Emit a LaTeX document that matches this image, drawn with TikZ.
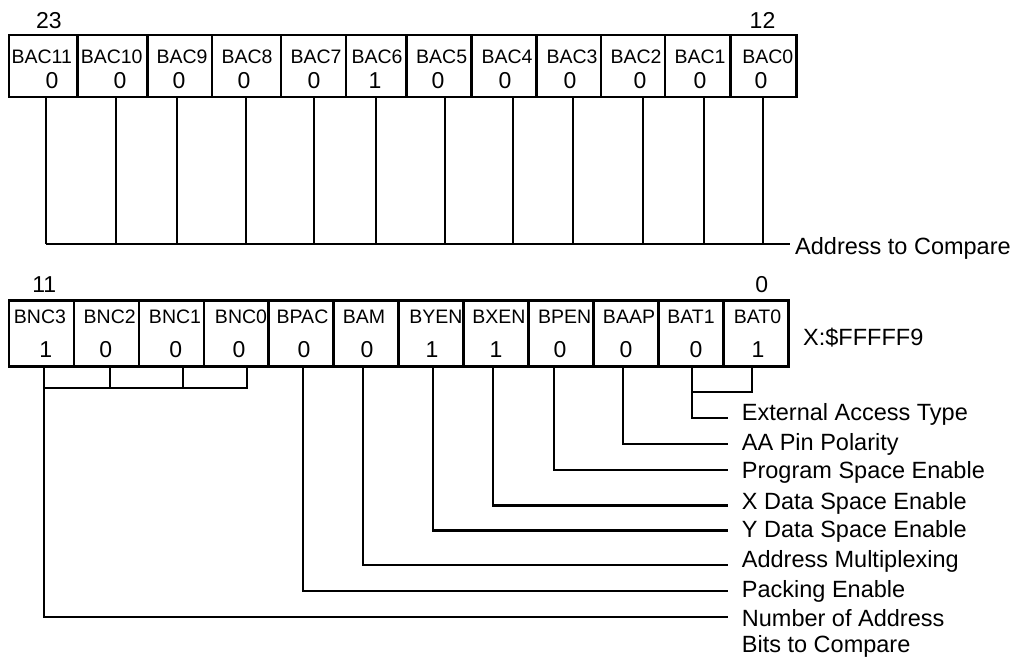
\documentclass[tikz,border=0pt]{standalone}
\usepackage{fontspec}
\setmainfont{Liberation Sans}
\begin{document}
\begin{tikzpicture}[x=1pt,y=-1pt,
  cell/.style={draw, line width=2.6pt, inner sep=0pt, anchor=center},
  nametext/.style={inner sep=0pt, anchor=base, font=\fontsize{19.5}{22}\selectfont},
  valtext/.style={inner sep=0pt, anchor=base, font=\fontsize{23}{26}\selectfont},
  bitnum/.style={inner sep=0pt, anchor=base, font=\fontsize{23}{26}\selectfont},
  desc/.style={inner sep=0pt, anchor=base west, font=\fontsize{23.5}{27}\selectfont},
  conn/.style={line width=2.2pt, line join=miter}]
\useasboundingbox (0,0) rectangle (1014,657);

% ---------- top register (bits 23..12) ----------
\foreach \l/\r/\nm/\nx/\v/\vx/\lx [count=\i] in {
  9/77.7/BAC11/41.7/0/52/46,
  77.7/147.7/BAC10/111.7/0/120/115.7,
  147.7/212/BAC9/182/0/179/176.7,
  212/281/BAC8/247/0/244/245.7,
  281/346/BAC7/316/0/314/314.3,
  346/406.7/BAC6/377/1/375/376,
  406.7/471.7/BAC5/441.7/0/438/445,
  471.7/536.7/BAC4/507/0/505/513.3,
  536.7/601/BAC3/572/0/570/573.3,
  601/665/BAC2/636/0/640/643.3,
  665/730.5/BAC1/700/0/700/704,
  730.5/796.7/BAC0/767.8/0/761/763.3}{
  \node[cell, minimum width={\r-\l}, minimum height=62] (t\i) at ({(\l+\r)/2},66) {};
  \node[nametext] (tn\i) at (\nx,63.3) {\nm};
  \node[valtext] (tv\i) at (\vx,88.3) {\v};
  \coordinate (ta\i) at (\lx,97);
  \coordinate (tb\i) at (\lx,244.3);
  \draw[conn] (ta\i) -- (tb\i);
}
\node[bitnum] (n23) at (49,28.3) {23};
\node[bitnum] (n12) at (762.5,28.3) {12};
\coordinate (addrEnd) at (790,244.3);
\draw[conn] (tb1) -- (addrEnd);
\node[desc] (addr) at (795,254.3) {Address to Compare};

% ---------- bottom register (bits 11..0) ----------
\foreach \nm/\nx/\v/\vx/\lx [count=\i] in {
  BNC3/40/1/45.8/44.3,
  BNC2/109.7/0/105.8/110.3,
  BNC1/175/0/175.8/182.7,
  BNC0/241/0/239/247.3,
  BPAC/302.5/0/304/303.3,
  BAM/364/0/367/363.3,
  BYEN/435.8/1/432/433.3,
  BXEN/499/1/496/493.3,
  BPEN/564.7/0/560/554.3,
  BAAP/629/0/626/623.3,
  BAT1/691/0/696/692.3,
  BAT0/757.5/1/758/752.3}{
  \node[cell, minimum width=64.94, minimum height=66] (b\i) at ({9+64.94*(\i-0.5)},333.5) {};
  \node[nametext] (bn\i) at (\nx,323.3) {\nm};
  \node[valtext] (bv\i) at (\vx,357.3) {\v};
  \coordinate (ba\i) at (\lx,366.5);
}
\node[bitnum] (n11) at (44.3,292.7) {11};
\node[bitnum] (n0) at (761.7,292.7) {0};
\node[desc] (xaddr) at (803,345) {X:\$FFFFF9};

% bracket BNC3..BNC0
\coordinate (k1) at (44.3,387.7);
\coordinate (k2) at (110.3,387.7);
\coordinate (k3) at (182.7,387.7);
\coordinate (k4) at (247.3,387.7);
\draw[conn] (ba4) -- (k4) -- (k1);
\draw[conn] (ba2) -- (k2);
\draw[conn] (ba3) -- (k3);

% bracket BAT1..BAT0
\coordinate (m11) at (692.3,392.3);
\coordinate (m12) at (752.3,392.3);
\draw[conn] (ba12) -- (m12) -- (m11);

% descriptions
\foreach \i/\ly/\ty/\txt in {
  11/417.7/420.7/External Access Type,
  10/443.8/450/AA Pin Polarity,
  9/470/478.3/Program Space Enable,
  8/505.5/509.3/X Data Space Enable,
  7/530.5/537.3/Y Data Space Enable,
  6/565.3/567.3/Address Multiplexing,
  5/590.7/597.3/Packing Enable,
  1/617.3/626/Number of Address}{
  \coordinate (c\i) at (ba\i |- 0,\ly);
  \coordinate (e\i) at (728.3,\ly);
  \node[desc] (d\i) at (741.7,\ty) {\txt};
  \draw[conn] (ba\i) -- (c\i) -- (e\i);
}
\node[desc] (d1b) at (741.7,652.7) {Bits to Compare};
\end{tikzpicture}
\end{document}
